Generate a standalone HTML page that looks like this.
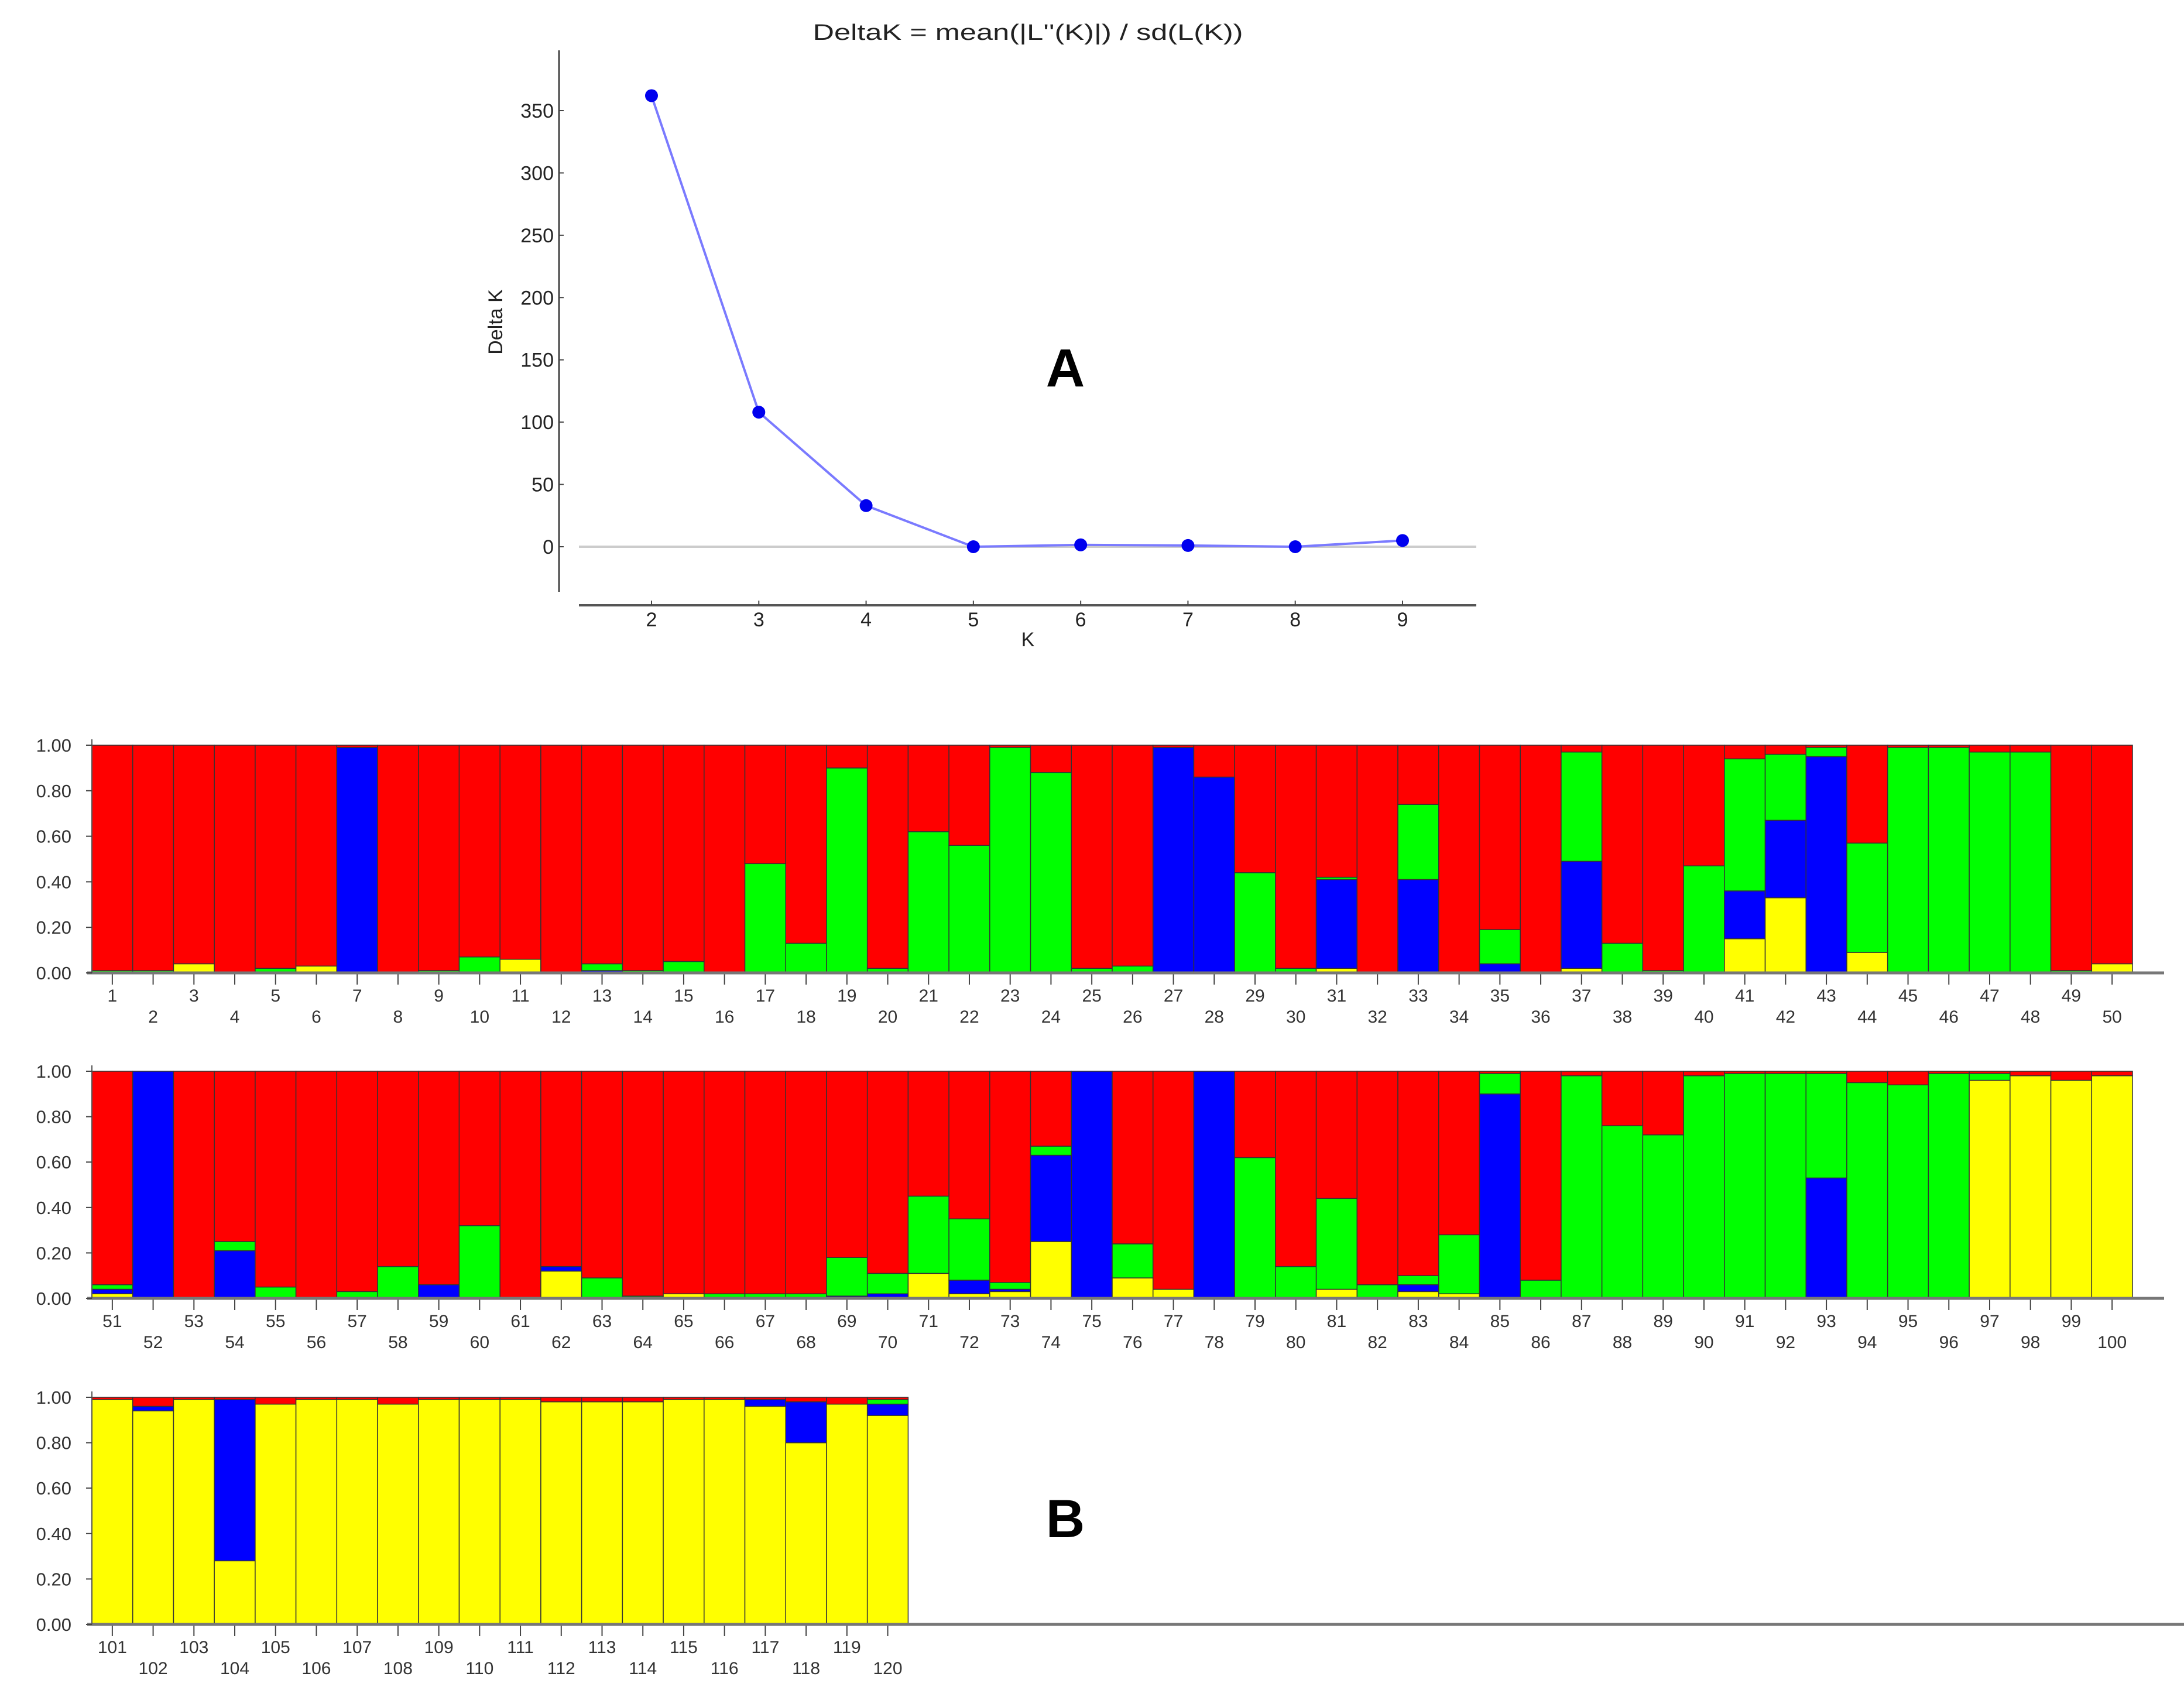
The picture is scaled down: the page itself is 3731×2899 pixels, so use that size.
<!DOCTYPE html>
<html><head><meta charset="utf-8"><style>
html,body{margin:0;padding:0;background:#fff;}
svg{display:block;font-family:"Liberation Sans",sans-serif;}
</style></head><body>
<svg id="chart" width="3731" height="2899" viewBox="0 0 3731 2899" xmlns="http://www.w3.org/2000/svg">
<rect width="3731" height="2899" fill="#fff"/>
<g id="deltak"></g>
<g id="bars"></g>
<text x="1820" y="660" font-size="92" font-weight="bold" text-anchor="middle" fill="#000">A</text>
<text x="1820" y="2626" font-size="92" font-weight="bold" text-anchor="middle" fill="#000">B</text>
</svg>
<script>
const kValues = [2,3,4,5,6,7,8,9];
const deltaK = [362,108,33,0,1.5,1,0,5];
const deltaTicks = [0,50,100,150,200,250,300,350];

// Q matrix per individual (1..120): yellow, blue, green; red = remainder
const yellowQ = [0,0,0.04,0,0,0.03,0,0,0,0, 0.06,0,0,0,0,0,0,0,0,0, 0,0,0,0,0,0,0,0,0,0, 0.02,0,0,0,0,0,0.02,0,0,0, 0.15,0.33,0,0.09,0,0,0,0,0,0.04,
 0.02,0,0,0,0,0,0,0,0,0, 0,0.12,0,0,0.02,0,0,0,0,0, 0.11,0.02,0.03,0.25,0,0.09,0.04,0,0,0, 0.04,0,0.03,0.02,0,0,0,0,0,0, 0,0,0,0,0,0,0.96,0.98,0.96,0.98,
 0.99,0.94,0.99,0.28,0.97,0.99,0.99,0.97,0.99,0.99, 0.99,0.98,0.98,0.98,0.99,0.99,0.96,0.80,0.97,0.92];
const blueQ = [0,0,0,0,0,0,0.99,0,0,0, 0,0,0.01,0,0,0,0,0,0,0, 0,0,0,0,0,0,0.99,0.86,0,0, 0.39,0,0.41,0,0.04,0,0.47,0,0,0, 0.21,0.34,0.95,0,0,0,0,0,0,0,
 0.02,1.0,0,0.21,0,0,0,0,0.06,0, 0,0.02,0,0,0,0,0,0,0.01,0.02, 0,0.06,0.01,0.38,1.0,0,0,1.0,0,0, 0,0,0.03,0,0.90,0,0,0,0,0, 0,0,0.53,0,0,0,0,0,0,0,
 0,0.02,0,0.71,0,0,0,0,0,0, 0,0,0,0,0,0,0.03,0.18,0,0.05];
const greenQ = [0.01,0.01,0,0,0.02,0,0,0,0.01,0.07, 0,0,0.03,0.01,0.05,0,0.48,0.13,0.90,0.02, 0.62,0.56,0.99,0.88,0.02,0.03,0,0,0.44,0.02, 0.01,0,0.33,0,0.15,0,0.48,0.13,0.01,0.47, 0.58,0.29,0.04,0.48,0.99,0.99,0.97,0.97,0.01,0,
 0.02,0,0,0.04,0.05,0,0.03,0.14,0,0.32, 0,0,0.09,0.01,0,0.02,0.02,0.02,0.17,0.09, 0.34,0.27,0.03,0.04,0,0.15,0,0,0.62,0.14, 0.40,0.06,0.04,0.26,0.09,0.08,0.98,0.76,0.72,0.98, 0.99,0.99,0.46,0.95,0.94,0.99,0.03,0,0,0,
 0,0,0,0,0,0,0,0,0,0, 0,0,0,0,0,0,0,0,0,0.02];
const qTicks = ["0.00","0.20","0.40","0.60","0.80","1.00"];

const NS = "http://www.w3.org/2000/svg";
function mk(tag, attrs, parent){ const e=document.createElementNS(NS,tag); for(const k in attrs) e.setAttribute(k,attrs[k]); parent.appendChild(e); return e; }

// ---------- Delta K chart ----------
const dk = document.getElementById('deltak');
const xK = k => 1113 + (k-2)*(2396-1113)/7;
const yD = v => 934 - v*(934-189)/350;
let e;
e = mk('text',{x:1756,y:68,'font-size':38,'text-anchor':'middle',fill:'#222',textLength:735,lengthAdjust:'spacingAndGlyphs'},dk); e.textContent="DeltaK = mean(|L''(K)|) / sd(L(K))";
 
e = mk('line',{x1:955,y1:86,x2:955,y2:1011,stroke:'#444','stroke-width':3},dk);
 
e = mk('line',{x1:989,y1:1034,x2:2522,y2:1034,stroke:'#555','stroke-width':4},dk);
 
e = mk('line',{x1:989,y1:yD(0),x2:2522,y2:yD(0),stroke:'#ccc','stroke-width':4},dk);
 
deltaTicks.forEach(t=>{
  e = mk('line',{x1:955,y1:yD(t),x2:963,y2:yD(t),stroke:'#444','stroke-width':2},dk);
   
  e = mk('text',{x:946,y:yD(t)+12,'font-size':34,'text-anchor':'end',fill:'#222'},dk); e.textContent=t;
   
});
kValues.forEach(k=>{
  e = mk('line',{x1:xK(k),y1:1034,x2:xK(k),y2:1026,stroke:'#444','stroke-width':2},dk);
   
  e = mk('text',{x:xK(k),y:1070,'font-size':34,'text-anchor':'middle',fill:'#222'},dk); e.textContent=k;
   
});
e = mk('text',{x:1756,y:1104,'font-size':34,'text-anchor':'middle',fill:'#222'},dk); e.textContent='K';
 
e = mk('text',{x:858,y:550,'font-size':34,'text-anchor':'middle',fill:'#222',transform:'rotate(-90 858 550)'},dk); e.textContent='Delta K';
 
e = mk('polyline',{points:kValues.map((k,i)=>xK(k)+','+yD(deltaK[i])).join(' '),fill:'none',stroke:'#7a7aff','stroke-width':4},dk);
 
kValues.forEach((k,i)=>{
  e = mk('circle',{cx:xK(k),cy:yD(deltaK[i]),r:11,fill:'#0000ee'},dk);
   
});

// ---------- Bar plot ----------
const bg = document.getElementById('bars');
const rows = [{start:0,n:50,y0:1662,y1:1273,axisEnd:3697},{start:50,n:50,y0:2218,y1:1830,axisEnd:3697},{start:100,n:20,y0:2775,y1:2387,axisEnd:3731}];
const xL = 157, bw = (3643-157)/50;
rows.forEach((r,ri)=>{
  const yQ = v => r.y0 - v*(r.y0-r.y1);
  const g = mk('g',{},bg);
   
  for(let j=0;j<r.n;j++){
    const i=r.start+j, x=xL+j*bw;
    const segs=[['#ffff00',yellowQ[i],'yellow'],['#0000ff',blueQ[i],'blue'],['#00ff00',greenQ[i],'green']];
    let cum=0;
    const red = Math.max(0,1-yellowQ[i]-blueQ[i]-greenQ[i]);
    segs.push(['#ff0000',red,'red']);
    segs.forEach(s=>{
      if(s[1]<=0) return;
      e = mk('rect',{x:x,y:yQ(cum+s[1]),width:bw,height:yQ(cum)-yQ(cum+s[1]),fill:s[0],stroke:'#333','stroke-width':1.5},g);
       
      cum+=s[1];
    });
    e = mk('line',{x1:x+bw/2,y1:r.y0,x2:x+bw/2,y2:r.y0+20,stroke:'#444','stroke-width':2},g);
     
    const odd = (i+1)%2===1;
    e = mk('text',{x:x+bw/2,y:r.y0+(odd?49:85),'font-size':30,'text-anchor':'middle',fill:'#333'},g); e.textContent=(i+1);
     
  }
  e = mk('line',{x1:xL-8,y1:r.y0,x2:r.axisEnd,y2:r.y0,stroke:'#777','stroke-width':5},g);
   
  e = mk('line',{x1:xL,y1:r.y1-10,x2:xL,y2:r.y0,stroke:'#555','stroke-width':2},g);
   
  qTicks.forEach((t,k)=>{
    const yy=yQ(k*0.2);
    e = mk('line',{x1:xL-10,y1:yy,x2:xL,y2:yy,stroke:'#444','stroke-width':2},g);
     
    e = mk('text',{x:122,y:yy+11,'font-size':31,'text-anchor':'end',fill:'#333'},g); e.textContent=t;
     
  });
});
</script>
</body></html>
